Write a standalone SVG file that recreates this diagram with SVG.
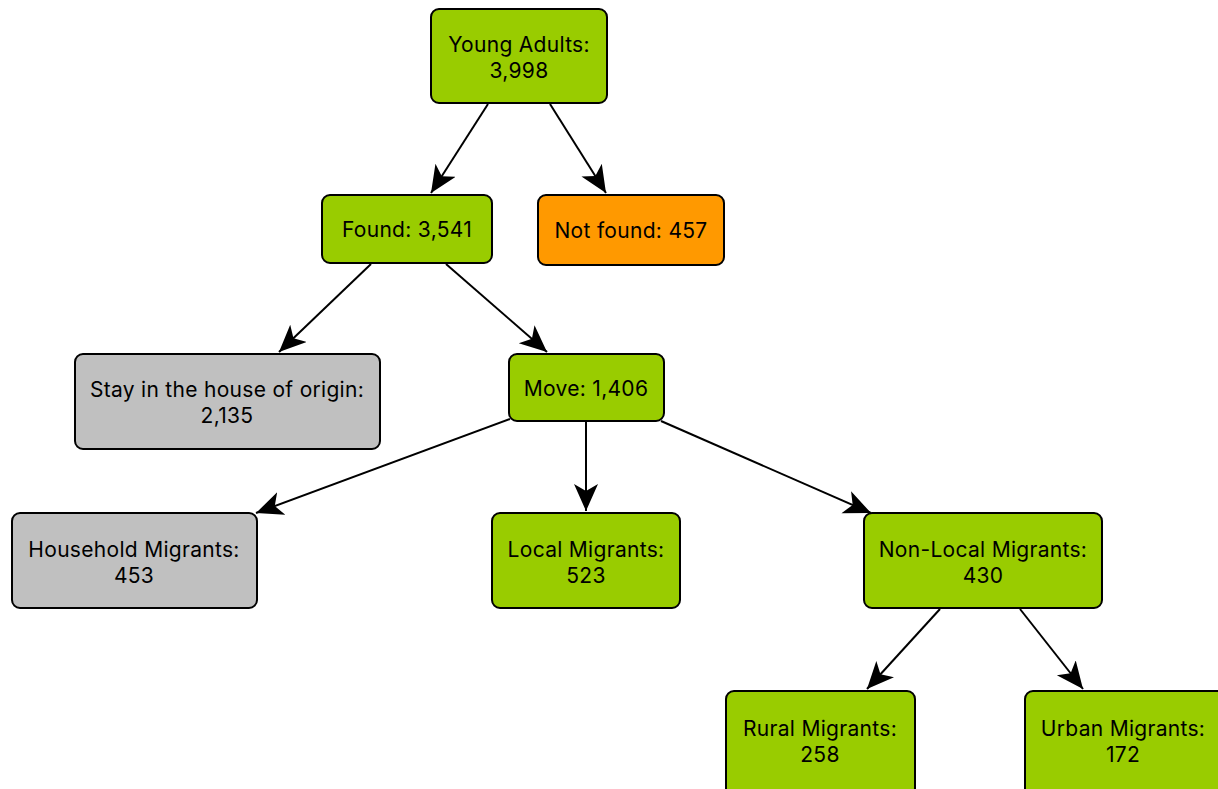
<svg xmlns="http://www.w3.org/2000/svg" width="1218" height="789" viewBox="0 0 1218 789">
<style>
.n rect{stroke:#000;stroke-width:2}
.g rect{fill:#99cc00}
.o rect{fill:#ff9900}
.s rect{fill:#c0c0c0}
text{font-family:Inter,"Noto Sans",sans-serif;font-size:21px;letter-spacing:0.3px;fill:#000;text-anchor:middle}
#edges line{stroke:#000;stroke-width:2;marker-end:url(#ah)}
</style>
<defs>
<marker id="ah" markerUnits="userSpaceOnUse" markerWidth="30" markerHeight="26" refX="27" refY="12" orient="auto" viewBox="0 0 30 26">
<path d="M0,0 L27,12 L0,24 L7,12 Z" fill="#000"/>
</marker>
</defs>
<rect width="1218" height="789" fill="#fff"/>
<g id="edges">
<line x1="488" y1="104" x2="431" y2="193"/>
<line x1="550" y1="104" x2="606" y2="193"/>
<line x1="371" y1="264" x2="279" y2="352"/>
<line x1="446" y1="264" x2="547" y2="352"/>
<line x1="510" y1="419" x2="256" y2="513"/>
<line x1="586" y1="422" x2="586" y2="511"/>
<line x1="661" y1="421" x2="871" y2="513"/>
<line x1="940" y1="609" x2="867" y2="689"/>
<line x1="1020" y1="609" x2="1083" y2="689"/>
</g>
<g id="young" class="n g"><rect x="431" y="9" width="176" height="94" rx="8"/><text x="519" y="52">Young Adults:</text><text x="519" y="78">3,998</text></g>
<g id="found" class="n g"><rect x="322" y="195" width="170" height="68" rx="8"/><text x="407" y="237">Found: 3,541</text></g>
<g id="notfound" class="n o"><rect x="538" y="195" width="186" height="70" rx="8"/><text x="631" y="238">Not found: 457</text></g>
<g id="stay" class="n s"><rect x="75" y="354" width="305" height="95" rx="8"/><text x="227" y="397">Stay in the house of origin:</text><text x="227" y="423">2,135</text></g>
<g id="move" class="n g"><rect x="509" y="354" width="155" height="67" rx="8"/><text x="586" y="396">Move: 1,406</text></g>
<g id="household" class="n s"><rect x="12" y="513" width="245" height="95" rx="8"/><text x="134" y="557">Household Migrants:</text><text x="134" y="583">453</text></g>
<g id="local" class="n g"><rect x="492" y="513" width="188" height="95" rx="8"/><text x="586" y="557">Local Migrants:</text><text x="586" y="583">523</text></g>
<g id="nonlocal" class="n g"><rect x="864" y="513" width="238" height="95" rx="8"/><text x="983" y="557">Non-Local Migrants:</text><text x="983" y="583">430</text></g>
<g id="rural" class="n g"><rect x="726" y="691" width="189" height="105" rx="8"/><text x="820" y="736">Rural Migrants:</text><text x="820" y="762">258</text></g>
<g id="urban" class="n g"><rect x="1025" y="691" width="200" height="105" rx="8"/><text x="1123" y="736">Urban Migrants:</text><text x="1123" y="762">172</text></g>
</svg>
